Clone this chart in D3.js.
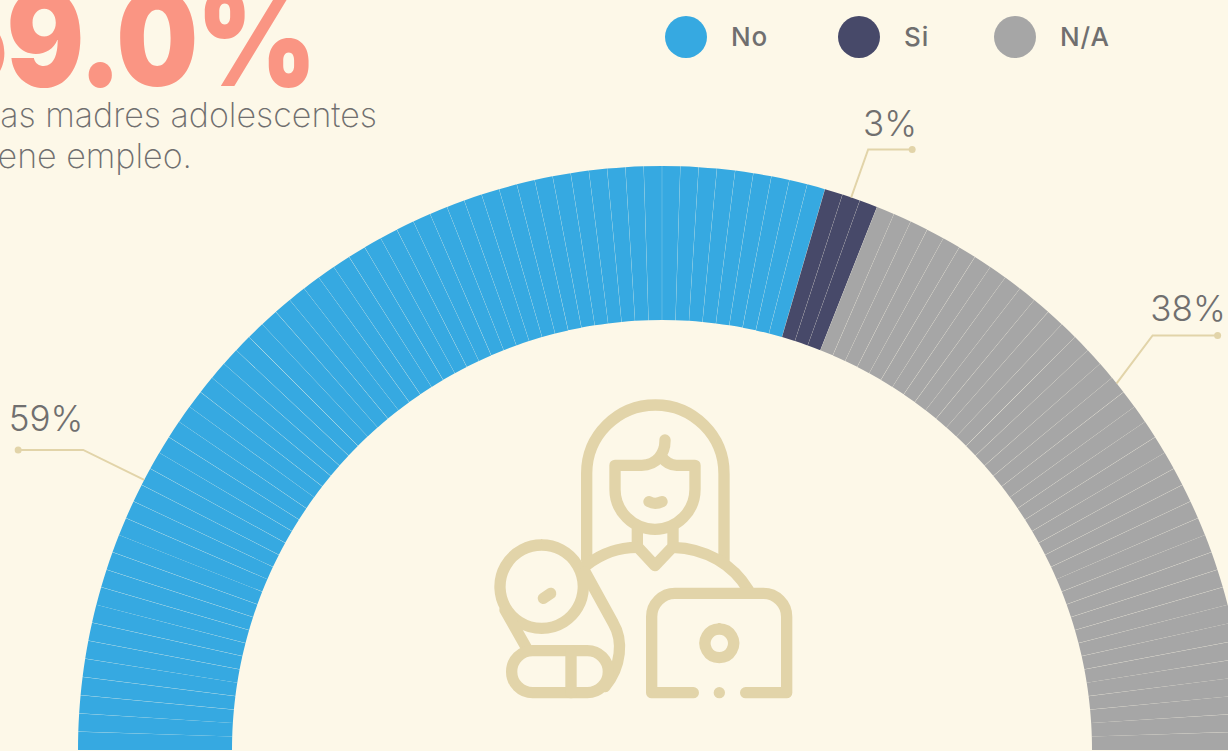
<!DOCTYPE html>
<html><head><meta charset="utf-8">
<script src="https://cdn.jsdelivr.net/npm/d3@7"></script>
<style>html,body{margin:0;padding:0;background:#fdf8e8;overflow:hidden}svg{display:block}</style>
</head><body><svg id="c" width="1228" height="751"></svg>
<script>
const categories = ["No", "Si", "N/A"];
const shares = [59, 3, 38];
const percentLabels = ["59%", "3%", "38%"];
const headline = "59.0%";
const subtitleLines = ["de las madres adolescentes", "no tiene empleo."];
const leaderShare = [15.3, 60.5, 78.4];

const colors = d3.scaleOrdinal(categories, ["#36a9e1", "#474969", "#a6a6a6"]);
const svg = d3.select("#c");
const cx = 662, cy = 750, rOut = 584, rIn = 430;
const fontL = "Inter, 'Open Sans', sans-serif";

// one slice per percentage point
const units = categories.flatMap((c, i) => d3.range(shares[i]).map(() => c));
const pie = d3.pie().value(1).sort(null).startAngle(-Math.PI / 2).endAngle(Math.PI / 2);
const arc = d3.arc().innerRadius(rIn).outerRadius(rOut).padAngle(0.00028);
const g = svg.append("g").attr("transform", `translate(${cx},${cy})`);
g.selectAll("path").data(pie(units)).join("path")
  .attr("d", arc).attr("fill", d => colors(d.data));

// share along the half ring -> angle
const angle = d3.scaleLinear([0, 100], [-Math.PI / 2, Math.PI / 2]);
const onRing = s => [cx + rOut * Math.sin(angle(s)), cy - rOut * Math.cos(angle(s))];

// leaders
const leaderGeom = [
  {elbow: [-61, -30], end: -65},
  {elbow: [17, -48], end: 44},
  {elbow: [36, -48], end: 65}
];
const lineCol = "#e2d4a9", txtCol = "#706f6f";
const labelPos = [[46, 431], [890, 136], [1188, 321]];
leaderShare.forEach((s, i) => {
  const p = onRing(s), geo = leaderGeom[i];
  const e = [p[0] + geo.elbow[0], p[1] + geo.elbow[1]];
  const q = [e[0] + geo.end, e[1]];
  svg.append("path").attr("d", d3.line()([p, e, q])).attr("fill", "none")
    .attr("stroke", lineCol).attr("stroke-width", 2);
  svg.append("circle").attr("cx", q[0]).attr("cy", q[1]).attr("r", 3.5).attr("fill", lineCol);
  svg.append("text").attr("x", labelPos[i][0]).attr("y", labelPos[i][1])
    .attr("text-anchor", "middle").attr("font-family", fontL).attr("font-weight", 300)
    .attr("font-size", 35).attr("fill", txtCol).text(percentLabels[i]);
});

// legend
const legendX = d3.scaleOrdinal(categories, [686, 859, 1015]);
const lg = svg.append("g").selectAll("g").data(categories).join("g")
  .attr("transform", d => `translate(${legendX(d)},37)`);
lg.append("circle").attr("r", 21).attr("fill", d => colors(d));
lg.append("text").attr("x", 45).attr("y", 8.5).attr("font-family", fontL).attr("font-weight", 500)
  .attr("font-size", 26).attr("letter-spacing", 0.9).attr("fill", txtCol).text(d => d);

// headline
svg.append("text").attr("transform", "translate(315,86) scale(0.88,1)").attr("text-anchor", "end")
  .attr("font-family", fontL).attr("font-weight", 900).attr("font-size", 131)
  .attr("letter-spacing", -2).attr("fill", "#fa9583").text(headline);
svg.selectAll(".sub").data(subtitleLines).join("text").attr("class", "sub")
  .attr("x", (d, i) => [377, 192][i]).attr("y", (d, i) => [127, 168][i]).attr("text-anchor", "end")
  .attr("font-family", fontL).attr("font-weight", 250).attr("font-size", 34)
  .attr("fill", txtCol).text(d => d);

// icon, drawn in a 3x grid
const ic = svg.append("g").attr("transform", "translate(480,390) scale(0.33333)")
  .attr("fill", "none").attr("stroke", lineCol).attr("stroke-width", 34)
  .attr("stroke-linecap", "round").attr("stroke-linejoin", "round");
[
  "M320,510 V251 A206,206 0 0 1 732,251 V510",
  "M555,150 C556,190 530,226 485,226 H405 V298 A120,120 0 0 0 645,298 V226 H590 C572,226 555,215 545,200",
  "M472,415 V470 L525,527 L579,470 V415",
  "M320,525 C365,490 415,472 472,472",
  "M579,472 C680,475 760,525 805,600",
  "M185,465 A125,125 0 1 1 184.9,465",
  "M190,625 L212,610",
  "M315,545 L400,700 C430,750 425,830 375,890",
  "M75,660 L140,775",
  "M158,782 H322 A63,63 0 0 1 322,908 H158 A63,63 0 0 1 158,782 Z",
  "M273,782 V908",
  "M640,908 H515 V680 A70,70 0 0 1 585,610 H850 A70,70 0 0 1 920,680 V908 H797",
  "M718,717 A43,43 0 1 1 717.9,717",
  "M718,908 L718,908",
  "M507,335 Q525,345 546,335"
].forEach(d => ic.append("path").attr("d", d));
</script></body></html>
